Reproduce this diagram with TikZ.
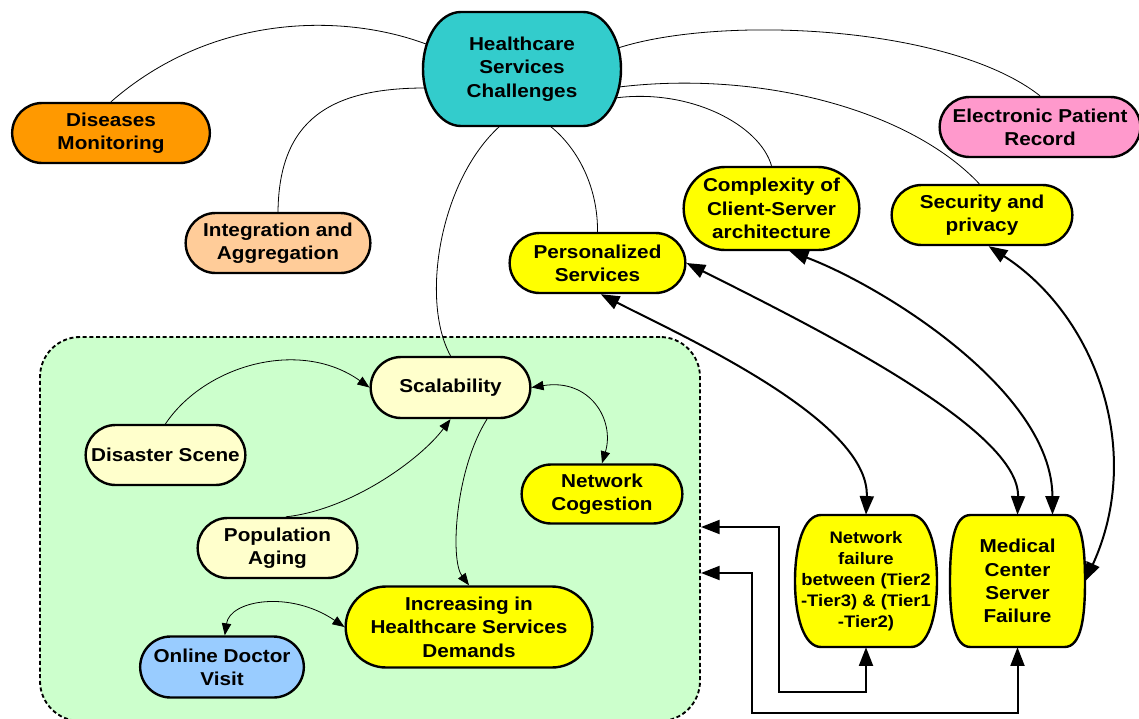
\documentclass[tikz,border=0pt]{standalone}
\usepackage{fontspec}
\setmainfont{Liberation Sans}[FakeStretch=1.11]
\usetikzlibrary{shapes.misc,arrows.meta,calc}

\definecolor{cteal}{HTML}{33CCCC}
\definecolor{corange}{HTML}{FF9900}
\definecolor{cpink}{HTML}{FF99CC}
\definecolor{cpeach}{HTML}{FFCC99}
\definecolor{cyellow}{HTML}{FFFF00}
\definecolor{cpale}{HTML}{FFFFCC}
\definecolor{cblue}{HTML}{99CCFF}
\definecolor{cgreen}{HTML}{CCFFCC}

\begin{document}
\begin{tikzpicture}[x=0.75pt,y=-0.75pt,
  box/.style={rounded rectangle, draw=black, line width=1.8pt, align=center,
    inner sep=2pt, font=\fontsize{14}{17.5}\selectfont\bfseries},
  sz/.style 2 args={minimum width=#1*0.75pt, minimum height=#2*0.75pt},
  plaintext/.style={align=center, inner sep=0pt},
  outline/.style={draw=black, line width=1.8pt},
  link/.style={line width=0.6pt},
  thinarrow/.style={line width=0.6pt, -{Triangle[length=9pt,width=7pt]}},
  thinboth/.style={line width=0.6pt, {Triangle[length=9pt,width=7pt]}-{Triangle[length=9pt,width=7pt]}},
  thickboth/.style={line width=1.5pt, {Triangle[length=14pt,width=10.5pt]}-{Triangle[length=14pt,width=10.5pt]}},
  region/.style={draw=black, line width=1.4pt, dash pattern=on 3pt off 2pt,
    fill=cgreen, rounded corners=30pt}
]
\useasboundingbox (0,0) rectangle (1139,718);
\clip (0,0) rectangle (1139,718);

% dashed group
\node[region, sz={660}{384}] (grp) at (370,529) {};

% central node: rounded box with elliptic ends
\path[outline, fill=cteal] (461,12) -- (583,12) .. controls (604,12) and (621,37.5) .. (621,69)
  .. controls (621,100.5) and (604,126) .. (583,126) -- (461,126)
  .. controls (440,126) and (423,100.5) .. (423,69)
  .. controls (423,37.5) and (440,12) .. (461,12) -- cycle;
\node[plaintext, sz={198}{114}, font=\fontsize{14}{17.5}\selectfont\bfseries] (hsc) at (522,69)
  {Healthcare\\Services\\Challenges};

% top level nodes
\node[box, fill=corange, sz={203}{60}] (dis) at (111,133) {Diseases\\Monitoring};
\node[box, fill=cpink, sz={206}{60}] (epr) at (1040,127) {Electronic Patient\\Record};
\node[box, fill=cpeach, sz={190}{60}] (intg) at (278,243) {Integration and\\Aggregation};
\node[box, fill=cyellow, sz={181}{83}] (cplx) at (771.5,208.5) {Complexity of\\Client-Server\\architecture};
\node[box, fill=cyellow, sz={186}{60}] (sec) at (982,215) {Security and\\privacy};
\node[box, fill=cyellow, sz={181}{60}] (pers) at (597.5,263) {Personalized\\Services};

% nodes inside the group
\node[box, fill=cpale, sz={165}{61}] (scal) at (450.5,387.5) {Scalability};
\node[box, fill=cpale, sz={165}{60}] (dst) at (165.5,455) {Disaster Scene};
\node[box, fill=cyellow, sz={166}{59}] (ncog) at (602,494) {Network\\Cogestion};
\node[box, fill=cpale, sz={165}{60}] (pop) at (277.5,548) {Population\\Aging};
\node[box, fill=cyellow, sz={252}{81}] (inc) at (469,627) {Increasing in\\Healthcare Services\\Demands};
\node[box, fill=cblue, sz={169}{61}] (odv) at (222,667) {Online Doctor\\Visit};

% barrel shaped failure nodes
\path[outline, fill=cyellow] (821,515) -- (911,515) .. controls (928,515) and (937,545) .. (937,581)
  .. controls (937,617) and (928,647) .. (911,647) -- (821,647)
  .. controls (804,647) and (795,617) .. (795,581)
  .. controls (795,545) and (804,515) .. (821,515) -- cycle;
\node[plaintext, sz={142}{132}, font=\fontsize{12.5}{15.75}\selectfont\bfseries] (nf) at (866,581)
  {Network\\failure\\between (Tier2\\-Tier3) \& (Tier1\\-Tier2)};
\path[outline, fill=cyellow] (970.5,515) -- (1064.5,515) .. controls (1081.5,515) and (1085,545) .. (1085,581)
  .. controls (1085,617) and (1081.5,647) .. (1064.5,647) -- (970.5,647)
  .. controls (953.5,647) and (950,617) .. (950,581)
  .. controls (950,545) and (953.5,515) .. (970.5,515) -- cycle;
\node[plaintext, sz={135}{132}, font=\fontsize{14}{17.5}\selectfont\bfseries] (mcs) at (1017.5,581)
  {Medical\\Center\\Server\\Failure};

% links from the central node
\draw[link] ($(hsc.center)+(-96,-25)$) .. controls (340,12) and (210,15) .. (dis.north);
\draw[link] ($(hsc.center)+(-97,19)$) .. controls (330,88) and (279,120) .. (intg.north);
\draw[link] ($(hsc.center)+(-22,57)$) .. controls (440,180) and (420,300) .. (scal.north);
\draw[link] ($(hsc.center)+(28,57)$) .. controls (580,150) and (598,190) .. (pers.north);
\draw[link] ($(hsc.center)+(93,29)$) .. controls (690,88) and (760,125) .. (cplx.north);
\draw[link] ($(hsc.center)+(97,18)$) .. controls (760,70) and (910,110) .. (sec.95);
\draw[link] ($(hsc.center)+(96,-21)$) .. controls (720,15) and (950,25) .. (epr.north);

% arrows inside the group
\draw[thinarrow] (dst.north) .. controls (205,365) and (300,338) .. (scal.west);
\draw[thinarrow] (pop.75) .. controls (350,510) and (420,460) .. (scal.south);
\draw[thinarrow] (scal.-41) .. controls (455,470) and (450,560) .. (inc.north);
\draw[thinboth] (scal.east) .. controls (590,378) and (615,420) .. (ncog.north);
\draw[thinboth] (odv.85) .. controls (230,600) and (290,590) .. (inc.west);

% failure relations
\draw[thickboth] (pers.-84) .. controls (680,335) and (870,420) .. (nf.north);
\draw[thickboth] (pers.east) .. controls (820,330) and (1020,430) .. (mcs.north);
\draw[thickboth] (cplx.-67) .. controls (880,285) and (1052,390) .. ($(mcs.north)+(35,0)$);
\draw[thickboth] (sec.-78) .. controls (1095,315) and (1145,450) .. (mcs.east);

% feedback into the group
\coordinate (ga) at (701,527);
\coordinate (gb) at (701,573);
\draw[thickboth] (ga) -| (779,692) -| (nf.south);
\draw[thickboth] (gb) -| (752,713) -| (mcs.south);
\end{tikzpicture}
\end{document}
